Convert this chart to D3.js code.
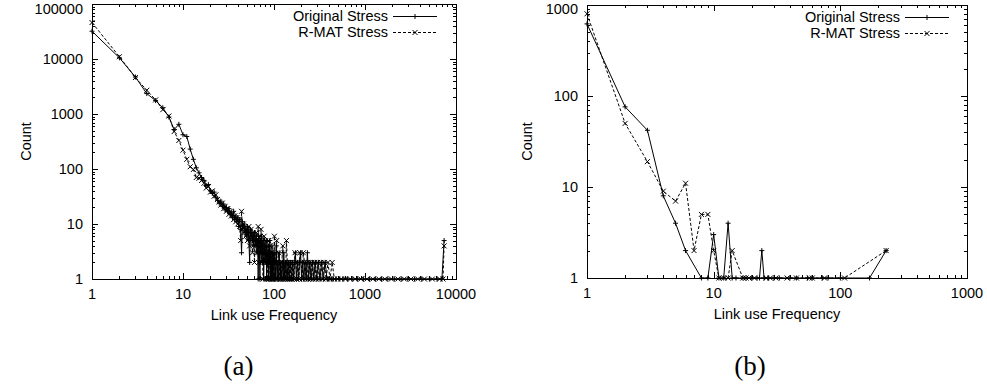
<!DOCTYPE html>
<html>
<head>
<meta charset="utf-8">
<script src="https://cdn.jsdelivr.net/npm/d3@7"></script>
<style>
  body { margin: 0; background: #fff; }
  svg text { font-family: "Liberation Sans", Arial, Helvetica, sans-serif; fill: #000; }
  svg text.caption { font-family: "Liberation Serif", "DejaVu Serif", serif; }
</style>
</head>
<body>
<svg id="chart" width="987" height="387"></svg>
<script>
// ---- Panel (a): link use frequency vs count, full range ----
const origStressA = [
  [1,32000],[2,10500],[3,4700],[4,2350],[5,1750],[6,1300],[7,880],[8,520],[9,650],[10,420],
  [11,390],[12,230],[13,150],[14,105],[15,85],[16,70],[17,62],[18,50],[19,52],[20,40],
  [21,36],[22,38],[23,30],[24,27],[25,24],[26,26],[27,21],[28,23],[29,18],[30,20],
  [31,17],[32,19],[33,15],[34,16],[35,13],[36,17],[37,12],[38,14],[39,11],[40,13],
  [41,9],[42,12],[43,8],[44,3],[45,11],[46,9],[47,10],[48,7],[49,8],[50,6],
  [51,9],[52,7],[53,5],[54,2],[55,8],[56,6],[57,7],[58,5],[59,6],[60,4],
  [61,7],[62,5],[63,4],[64,6],[65,3],[66,5],[67,1],[68,6],[69,4],[70,1],
  [71,5],[72,3],[73,6],[74,2],[75,4],[76,5],[77,1],[78,3],[79,4],[80,2],
  [82,5],[83,1],[84,3],[85,2],[86,4],[87,1],[88,3],[89,2],[90,5],[91,1],
  [92,3],[93,2],[94,1],[95,4],[96,2],[97,1],[98,3],[99,2],[100,1],[102,3],
  [103,1],[105,2],[106,4],[108,1],[110,2],[112,1],[114,3],[115,2],[117,1],[119,2],
  [121,1],[124,2],[126,1],[128,3],[131,1],[133,2],[136,1],[139,2],[142,1],[145,2],
  [148,1],[152,2],[156,1],[160,2],[164,1],[168,2],[172,3],[176,1],[181,2],[186,1],
  [191,2],[196,3],[201,1],[207,2],[213,1],[219,2],[226,1],[233,3],[240,1],[248,2],
  [256,1],[265,2],[274,1],[284,2],[295,1],[307,2],[320,1],[334,2],[349,1],[365,2],
  [383,1],[403,1],[425,1],[450,1],[480,1],[520,1],[570,1],[640,1],[720,1],[830,1],
  [960,1],[1120,1],[1300,1],[1520,1],[1780,1],[2100,1],[2500,1],[2950,1],[3500,1],[4200,1],
  [5100,1],[6200,1],[7000,1],[7400,5]
];
const rmatStressA = [
  [1,46000],[2,11000],[3,4600],[4,2700],[5,1800],[6,1200],[7,920],[8,480],[9,330],[10,220],
  [11,150],[12,110],[13,98],[14,70],[15,68],[16,62],[17,55],[18,45],[19,48],[20,38],
  [21,40],[22,32],[23,34],[24,28],[25,25],[26,22],[27,24],[28,19],[29,21],[30,17],
  [31,19],[32,15],[33,17],[34,14],[35,15],[36,12],[37,14],[38,11],[39,13],[40,10],
  [41,12],[42,9],[43,5],[44,17],[45,8],[46,10],[47,7],[48,9],[49,6],[50,8],
  [51,5],[52,7],[53,9],[54,4],[55,6],[56,8],[57,5],[58,3],[59,7],[60,5],
  [61,2],[62,6],[63,4],[64,7],[65,3],[66,5],[67,9],[68,2],[69,4],[70,6],
  [71,3],[72,8],[73,2],[74,5],[75,3],[76,1],[77,4],[78,6],[79,2],[80,3],
  [81,5],[82,2],[83,4],[84,1],[85,3],[86,2],[87,5],[88,1],[89,2],[90,4],
  [91,2],[92,1],[93,3],[94,2],[95,1],[96,2],[97,3],[98,1],[99,2],[101,6],
  [103,2],[104,1],[106,2],[107,5],[109,1],[111,2],[113,3],[116,1],[118,2],[120,1],
  [122,2],[125,4],[127,1],[130,2],[134,1],[137,5],[140,2],[143,1],[147,2],[150,1],
  [154,2],[158,1],[162,2],[166,1],[170,3],[174,2],[178,1],[183,2],[188,1],[193,3],
  [198,2],[204,1],[210,3],[216,2],[222,1],[229,2],[236,1],[244,2],[252,1],[260,2],
  [270,1],[280,2],[290,1],[302,2],[315,1],[328,2],[342,1],[357,2],[374,1],[392,2],
  [412,1],[436,2],[460,1],[500,1],[550,1],[610,1],[690,1],[780,1],[900,1],[1050,1],
  [1220,1],[1420,1],[1650,1],[1950,1],[2300,1],[2700,1],[3200,1],[3800,1],[4500,1],[5500,1],
  [6600,1],[7200,1],[7400,4]
];

// ---- Panel (b): link use frequency vs count, reduced range ----
const origStressB = [
  [1,620],[2,76],[3,42],[4,8],[5,4],[6,2],[8,1],[9,1],[10,3],[11,1],
  [12,1],[13,4],[14,1],[15,1],[17,1],[18,1],[20,1],[22,1],[23,1],[24,2],
  [25,1],[27,1],[30,1],[33,1],[40,1],[45,1],[55,1],[60,1],[72,1],[80,1],
  [100,1],[170,1],[230,2]
];
const rmatStressB = [
  [1,800],[2,50],[3,19],[4,9],[5,7],[6,11],[7,2],[8,5],[9,5],[10,2],
  [11,1],[12,1],[13,1],[14,2],[17,1],[18,1],[19,1],[21,1],[26,1],[28,1],
  [31,1],[38,1],[45,1],[57,1],[60,1],[75,1],[108,1],[230,2]
];

// Axis ticks and labels
const xTicksA = [1, 10, 100, 1000, 10000];
const yTicksA = [1, 10, 100, 1000, 10000, 100000];
const xTicksB = [1, 10, 100, 1000];
const yTicksB = [1, 10, 100, 1000];
const seriesNames = ["Original Stress", "R-MAT Stress"];
const xAxisTitle = "Link use Frequency";
const yAxisTitle = "Count";
const captions = ["(a)", "(b)"];

const FONT = "'Liberation Sans', Arial, Helvetica, sans-serif";
const svg = d3.select("#chart");

function plusPath(x, y, s) {
  return `M${x - s},${y}h${2 * s}M${x},${y - s}v${2 * s}`;
}
function crossPath(x, y, s) {
  return `M${x - s},${y - s}l${2 * s},${2 * s}M${x - s},${y + s}l${2 * s},${-2 * s}`;
}

function drawPanel(cfg) {
  const g = svg.append("g");
  const x = d3.scaleLog().domain(cfg.xDomain).range([cfg.left, cfg.right]);
  const y = d3.scaleLog().domain(cfg.yDomain).range([cfg.bottom, cfg.top]);

  const major = 6, minor = 3;
  const tickG = g.append("g").attr("stroke", "#000").attr("stroke-width", 1).attr("fill", "none");
  const isMajor = v => Math.abs(Math.log10(v) - Math.round(Math.log10(v))) < 1e-9;

  // x ticks, bottom and top, pointing inward
  x.ticks().forEach(v => {
    const px = Math.round(x(v)) + 0.5;
    const len = isMajor(v) ? major : minor;
    tickG.append("line").attr("x1", px).attr("x2", px).attr("y1", cfg.bottom).attr("y2", cfg.bottom - len);
    tickG.append("line").attr("x1", px).attr("x2", px).attr("y1", cfg.top).attr("y2", cfg.top + len);
  });
  // y ticks, left and right, pointing inward
  y.ticks().forEach(v => {
    const py = Math.round(y(v)) + 0.5;
    const len = isMajor(v) ? major : minor;
    tickG.append("line").attr("x1", cfg.left).attr("x2", cfg.left + len).attr("y1", py).attr("y2", py);
    tickG.append("line").attr("x1", cfg.right).attr("x2", cfg.right - len).attr("y1", py).attr("y2", py);
  });

  // tick labels (the topmost one is kept inside the page)
  g.selectAll(null).data(cfg.xTicks).join("text")
    .attr("x", d => x(d)).attr("y", cfg.bottom + 20)
    .attr("text-anchor", "middle").attr("font-size", 14.5).attr("font-family", FONT)
    .text(d => String(d));
  g.selectAll(null).data(cfg.yTicks).join("text")
    .attr("x", cfg.left - 9).attr("y", d => Math.max(y(d), 9)).attr("dy", "0.36em")
    .attr("text-anchor", "end").attr("font-size", 14.5).attr("font-family", FONT)
    .text(d => String(d));

  // axis titles
  g.append("text").attr("x", (cfg.left + cfg.right) / 2).attr("y", cfg.bottom + 41)
    .attr("text-anchor", "middle").attr("font-size", 14.5).attr("font-family", FONT).text(xAxisTitle);
  g.append("text").attr("transform", `translate(${cfg.yTitleX},${(cfg.top + cfg.bottom) / 2}) rotate(-90)`)
    .attr("text-anchor", "middle").attr("font-size", 14.5).attr("font-family", FONT).text(yAxisTitle);

  // series
  const line = d3.line().x(d => x(d[0])).y(d => y(d[1]));
  const series = [
    { data: cfg.orig, dash: null, marker: plusPath },
    { data: cfg.rmat, dash: "3,2", marker: crossPath }
  ];
  series.slice().reverse().forEach(s => {
    g.append("path").attr("d", line(s.data)).attr("fill", "none")
      .attr("stroke", "#000").attr("stroke-width", 1)
      .attr("stroke-dasharray", s.dash);
    g.append("path").attr("d", s.data.map(d => s.marker(x(d[0]), y(d[1]), 2.5)).join(""))
      .attr("fill", "none").attr("stroke", "#000").attr("stroke-width", 1);
  });

  // border
  g.append("rect").attr("x", cfg.left + 0.5).attr("y", cfg.top + 0.5)
    .attr("width", cfg.right - cfg.left).attr("height", cfg.bottom - cfg.top)
    .attr("fill", "none").attr("stroke", "#000").attr("stroke-width", 1);

  // legend
  series.forEach((s, i) => {
    const ly = cfg.top + 12 + i * 16;
    g.append("text").attr("x", cfg.legendX).attr("y", ly).attr("dy", "0.36em")
      .attr("text-anchor", "end").attr("font-size", 14.5).attr("font-family", FONT).text(seriesNames[i]);
    const x0 = cfg.legendX + 5, x1 = cfg.legendX + 49;
    g.append("line").attr("x1", x0).attr("x2", x1).attr("y1", ly + 0.5).attr("y2", ly + 0.5)
      .attr("stroke", "#000").attr("stroke-width", 1).attr("stroke-dasharray", s.dash);
    g.append("path").attr("d", s.marker((x0 + x1) / 2, ly + 0.5, 2.5))
      .attr("fill", "none").attr("stroke", "#000").attr("stroke-width", 1);
  });

  // caption
  svg.append("text").attr("class", "caption")
    .attr("x", cfg.captionX).attr("y", 375)
    .attr("text-anchor", "middle").attr("font-size", 27).text(cfg.caption);
}

drawPanel({
  left: 92, right: 456, top: 4, bottom: 279,
  xDomain: [1, 10000], yDomain: [1, 100000],
  xTicks: xTicksA, yTicks: yTicksA,
  orig: origStressA, rmat: rmatStressA,
  yTitleX: 31, legendX: 388, captionX: 238.5, caption: captions[0]
});
drawPanel({
  left: 587, right: 967, top: 5, bottom: 278,
  xDomain: [1, 1000], yDomain: [1, 1000],
  xTicks: xTicksB, yTicks: yTicksB,
  orig: origStressB, rmat: rmatStressB,
  yTitleX: 532, legendX: 900, captionX: 750, caption: captions[1]
});
</script>
</body>
</html>
